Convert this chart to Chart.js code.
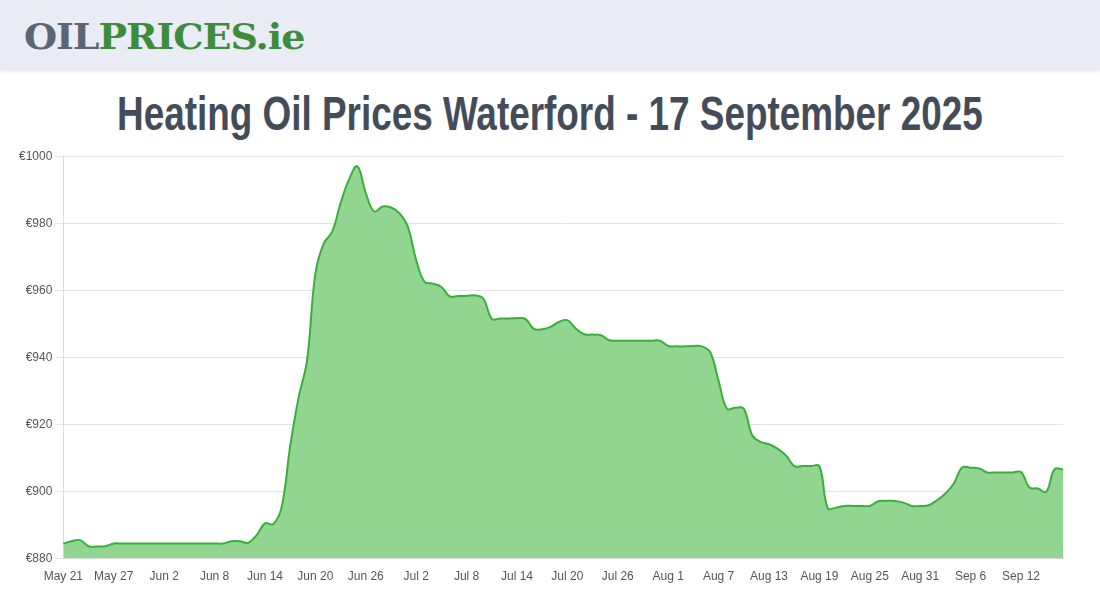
<!DOCTYPE html>
<html>
<head>
<meta charset="utf-8">
<script src="https://cdn.jsdelivr.net/npm/chart.js@4/dist/chart.umd.min.js"></script>
<style>
  body { margin: 0; background: #fff; font-family: "Liberation Sans", Arial, sans-serif; }
  #top { position: absolute; left: 0; top: 0; width: 1100px; height: 70px; background: #e9ecf4; box-shadow: 0 2px 4px rgba(0,0,0,0.08); }
  #logo { position: absolute; left: 24px; top: 15px; font-family: "DejaVu Serif", serif; font-weight: bold; font-size: 36px; letter-spacing: -1px; white-space: nowrap; transform-origin: 0 0; }
  #logo .a { color: #5b6575; }
  #logo .b { color: #3c8c3c; }
  #title { position: absolute; left: 550px; top: 86px; font-family: "Liberation Sans Narrow", "Liberation Sans", sans-serif; font-weight: bold; font-size: 48px; color: #454c59; white-space: nowrap; transform-origin: 0 0; }
  #wrap { position: absolute; left: 0; top: 146px; width: 1100px; height: 444px; }
</style>
</head>
<body>
<div id="top"><div id="logo"><span class="a">OIL</span><span class="b">PRICES.ie</span></div></div>
<div id="title">Heating Oil Prices Waterford - 17 September 2025</div>
<div id="wrap"><canvas id="myChart"></canvas></div>
<script>
// fit header texts to the widths in the original page
function fitWidth(el, w, left) {
    var s = w / el.offsetWidth;
    el.style.transform = 'scale(' + s + ',1)';
    if (left !== undefined) el.style.left = left + 'px';
}
fitWidth(document.getElementById('logo'), 280);
fitWidth(document.getElementById('title'), 866, 117);

// daily prices from May 21 to Sep 17
const startDate = new Date(2025, 4, 21);
const monthNames = ['Jan','Feb','Mar','Apr','May','Jun','Jul','Aug','Sep','Oct','Nov','Dec'];

const prices = [
  884.5, 885.2, 885.5, 883.7, 883.6, 883.7, 884.5, 884.5, 884.5, 884.5,
  884.5, 884.5, 884.5, 884.5, 884.5, 884.5, 884.5, 884.5, 884.5, 884.5,
  885.2, 885.2, 884.7, 887, 890.5, 890.3, 895.5, 913.5, 928, 939,
  965, 974, 977.5, 986, 993, 997, 989, 983.5, 985, 984.7,
  983, 979, 969, 962.5, 962, 961, 958.2, 958.3, 958.3, 958.5,
  957.5, 951.5, 951.6, 951.6, 951.7, 951.5, 948.5, 948.4, 949.1, 950.6,
  951.1, 948.6, 946.9, 946.8, 946.6, 945.1, 945, 945, 945, 945,
  945, 945, 943.4, 943.3, 943.3, 943.4, 943.3, 941.6, 933, 924.7,
  925, 924.7, 916.8, 914.8, 914.1, 912.8, 910.8, 907.6, 907.6, 907.6,
  907.6, 895, 895.2, 895.7, 895.7, 895.7, 895.7, 897.1, 897.2, 897.2,
  896.7, 895.7, 895.7, 895.9, 897.4, 899.4, 902.4, 907.2, 907.1, 906.9,
  905.7, 905.7, 905.7, 905.7, 905.8, 901.2, 900.9, 899.9, 906.7, 906.6
];

const dayLabels = [];
for (let i = 0; i < prices.length; i++) {
    let d = new Date(startDate.getTime() + i * 86400000);
    dayLabels.push(monthNames[d.getMonth()] + ' ' + d.getDate());
}

const yTicks = { min: 880, max: 1000, step: 20 };

var ctx = document.getElementById('myChart');

new Chart(ctx, {
    type: 'line',
    data: {
        labels: dayLabels,
        datasets: [{
            data: prices,
            borderColor: '#3aae3a',
            backgroundColor: 'rgba(145, 213, 145, 1)',
            borderWidth: 2,
            fill: true,
            tension: 0.4,
            pointRadius: 0
        }]
    },
    options: {
        responsive: true,
        maintainAspectRatio: false,
        animation: false,
        layout: { padding: { left: 16, right: 37, top: 2, bottom: 3 } },
        plugins: { legend: { display: false }, tooltip: { enabled: false } },
        scales: {
            x: {
                grid: { display: false },
                border: { color: '#ddd' },
                ticks: {
                    autoSkip: false, maxRotation: 0, color: '#555',
                    font: { family: 'Liberation Sans', size: 12 },
                    callback: function (v, i) { return i % 6 === 0 ? dayLabels[i] : null; }
                }
            },
            y: {
                min: yTicks.min, max: yTicks.max,
                grid: { color: '#e3e3e3' },
                border: { color: '#ddd' },
                ticks: {
                    stepSize: yTicks.step, color: '#555',
                    font: { family: 'Liberation Sans', size: 12 },
                    callback: function (v) { return '€' + v; }
                }
            }
        }
    }
});
</script>
</body>
</html>
